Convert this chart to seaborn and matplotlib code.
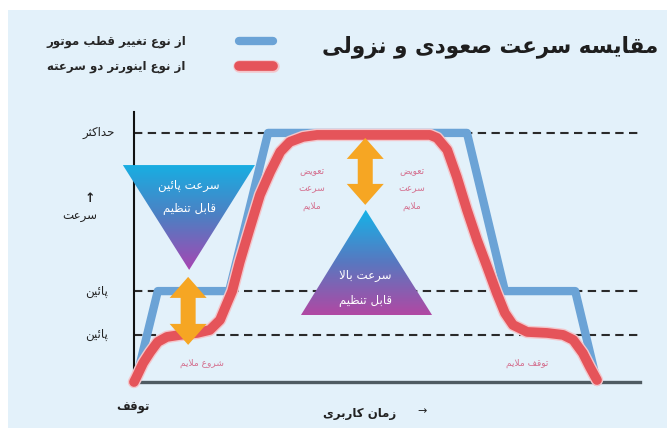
import numpy as np
import seaborn as sns
import matplotlib.pyplot as plt
import matplotlib.patheffects as pe
from matplotlib.patches import Polygon, Rectangle
from matplotlib.colors import LinearSegmentedColormap

# matplotlib does no Arabic-script shaping, so join the letters by hand
# (presentation forms) and reverse for right-to-left display.
DUAL = {'\u0628': 0xFE8F, '\u067E': 0xFB56, '\u062A': 0xFE95, '\u062B': 0xFE99,
        '\u062D': 0xFEA1, '\u0633': 0xFEB1, '\u0634': 0xFEB5, '\u0635': 0xFEB9,
        '\u0636': 0xFEBD, '\u0637': 0xFEC1, '\u0638': 0xFEC5, '\u0639': 0xFEC9,
        '\u063A': 0xFECD, '\u0641': 0xFED1, '\u0642': 0xFED5, '\u06A9': 0xFB8E,
        '\u0643': 0xFB8E, '\u0644': 0xFEDD, '\u0645': 0xFEE1, '\u0646': 0xFEE5,
        '\u0647': 0xFEE9, '\u06CC': 0xFBFC, '\u064A': 0xFBFC, '\u0626': 0xFE89}
RIGHT = {'\u0627': 0xFE8D, '\u062F': 0xFEA9, '\u0631': 0xFEAD, '\u0632': 0xFEAF,
         '\u0648': 0xFEED, '\uFEFB': 0xFEFB}


def fa(text):
    s = text.replace('\u0644\u0627', '\uFEFB')
    out = []
    for i, ch in enumerate(s):
        base = DUAL.get(ch) or RIGHT.get(ch)
        if base is None:
            out.append(ch)
            continue
        prev = s[i - 1] if i > 0 else ''
        nxt = s[i + 1] if i + 1 < len(s) else ''
        p = prev in DUAL
        n = ch in DUAL and (nxt in DUAL or nxt in RIGHT)
        out.append(chr(base + (3 if p and n else 1 if p else 2 if n else 0)))
    return ''.join(out)[::-1]


W, H = 671, 432

# ---- data (time in % of cycle, speed in % of max) ----
time_pole = [0.3, 4.7, 18.8, 26.5, 65.8, 73.3, 87.2, 91.5]
speed_pole = [0, 36.5, 36.5, 100, 100, 36.5, 36.5, 0]

time_inv = [0, 0.4, 1.8, 3.2, 4.7, 6.5, 9.1, 12.5, 15.0, 17.0, 18.4, 19.4, 20.9,
            22.9, 24.9, 26.9, 28.9, 30.8, 33.4, 36.2, 58.5, 59.9, 61.9, 63.8,
            65.8, 67.8, 69.8, 71.7, 73.3, 74.9, 77.7, 81.6, 84.8, 86.8, 88.7,
            90.1, 91.5]
speed_inv = [0, 1.6, 7.6, 12.0, 16.1, 18.1, 18.9, 19.7, 20.9, 24.9, 31.7, 36.5,
             48.2, 61.8, 75.1, 84.3, 92.4, 96.4, 98.4, 99.2, 99.2, 98.0, 93.2,
             82.3, 69.1, 57.0, 46.2, 35.7, 27.7, 22.9, 20.1, 19.7, 18.9, 16.9,
             11.6, 6.0, 0.8]

levels = [100, 36.5, 19]
level_labels = ['حداکثر', 'پائین', 'پائین']
series_labels = ['از نوع تغییر قطب موتور', 'از نوع اینورتر دو سرعته']
title = 'مقایسه سرعت صعودی و نزولی'

BLUE = '#6BA3D6'
RED = '#E5545A'
PINK = '#D4708F'
ORANGE = '#F6A623'

sns.set_theme(style='white')
plt.rcParams['font.family'] = ['DejaVu Sans']

fig = plt.figure(figsize=(W / 100, H / 100), dpi=100)
fig.patch.set_facecolor('white')
fig.add_artist(Rectangle((8 / W, 4 / H), (W - 12) / W, (H - 14) / H,
                         transform=fig.transFigure, facecolor='#E3F1FA',
                         edgecolor='none', zorder=-1))

ax = fig.add_axes([134 / W, 50 / H, 506 / W, 270 / H])
ax.set_facecolor('none')

sns.lineplot(x=time_pole, y=speed_pole, ax=ax, color=BLUE, linewidth=6,
             estimator=None, sort=False)
blue_line = ax.lines[-1]
sns.lineplot(x=time_inv, y=speed_inv, ax=ax, color=RED, linewidth=7,
             estimator=None, sort=False)
red_line = ax.lines[-1]
red_line.set_path_effects([pe.Stroke(linewidth=9, foreground='#F3C6CB'), pe.Normal()])
for ln, z in [(blue_line, 4), (red_line, 4.5)]:
    ln.set_solid_capstyle('round')
    ln.set_solid_joinstyle('round')
    ln.set_clip_on(False)
    ln.set_zorder(z)

for lv, lab, off in zip(levels, level_labels, [-14, -19, -19]):
    ax.axhline(lv, color='#2a2a2a', lw=1.5, ls=(0, (4, 2.6)), zorder=2, clip_on=False)
    ax.annotate(fa(lab), xy=(0, lv), xycoords=('axes fraction', 'data'),
                xytext=(off, 0), textcoords='offset points', ha='right',
                va='center', fontsize=8.5, color='#222222')


def gradient_triangle(verts, colors):
    xs = [v[0] for v in verts]
    ys = [v[1] for v in verts]
    poly = Polygon(verts, closed=True, transform=ax.transData,
                   facecolor='none', edgecolor='none')
    cmap = LinearSegmentedColormap.from_list('tri', colors[::-1])
    grad = np.linspace(1, 0, 256).reshape(-1, 1)
    im = ax.imshow(grad, extent=[min(xs), max(xs), min(ys), max(ys)],
                   origin='upper', cmap=cmap, aspect='auto', clip_path=poly,
                   zorder=3, interpolation='bilinear')
    im.set_clip_box(fig.bbox)


gradient_triangle([(-2.2, 87.1), (23.9, 87.1), (10.9, 45.0)],
                  ['#18AEE2', '#4F7EC2', '#A745B2'])
gradient_triangle([(45.8, 69.1), (58.9, 26.9), (33.0, 26.9)],
                  ['#14B4E8', '#5878C0', '#B148A3'])

PX_T, PX_S = 5.06, 2.49  # pixels per data unit


def double_arrow(t, s0, s1):
    hw, sw, hl = 18.5 / PX_T, 7.5 / PX_T, 21 / PX_S
    pts = [(t, s1), (t + hw, s1 - hl), (t + sw, s1 - hl), (t + sw, s0 + hl),
           (t + hw, s0 + hl), (t, s0), (t - hw, s0 + hl), (t - sw, s0 + hl),
           (t - sw, s1 - hl), (t - hw, s1 - hl)]
    ax.add_patch(Polygon(pts, closed=True, facecolor=ORANGE, edgecolor='none',
                         zorder=5, clip_on=False))


double_arrow(10.7, 14.9, 42.2)
double_arrow(45.7, 71.1, 98.0)

ax.text(10.9, 74.3, fa('سرعت پائین') + '\n' + fa('قابل تنظیم'), ha='center',
        va='center', color='white', fontsize=8.5, linespacing=1.9, zorder=6)
ax.text(45.8, 38.0, fa('سرعت بالا') + '\n' + fa('قابل تنظیم'), ha='center',
        va='center', color='white', fontsize=8.5, linespacing=2.1, zorder=6)

smooth = '\n'.join(fa(w) for w in ['تعویض', 'سرعت', 'ملایم'])
for t in [35.2, 54.9]:
    ax.text(t, 77.5, smooth, ha='center', va='center', color=PINK,
            fontsize=6.5, linespacing=2.2, zorder=6)
ax.text(13.4, 7.6, fa('شروع ملایم'), ha='center', va='center', color=PINK,
        fontsize=6.5, zorder=6)
ax.text(77.7, 7.6, fa('توقف ملایم'), ha='center', va='center', color=PINK,
        fontsize=6.5, zorder=6)

ax.set_xlim(0, 100)
ax.set_ylim(0, 108.4)
ax.set_xticks([])
ax.set_yticks([])
ax.set_xlabel('')
ax.set_ylabel('')
for side in ['top', 'right']:
    ax.spines[side].set_visible(False)
ax.spines['left'].set_color('#111111')
ax.spines['left'].set_linewidth(1.5)
ax.spines['bottom'].set_color('#4F5B62')
ax.spines['bottom'].set_linewidth(2.4)

ax.legend(handles=[blue_line, red_line], labels=[fa(l) for l in series_labels],
          loc='upper right', bbox_to_anchor=(279 / W, 1 - 29 / H),
          bbox_transform=fig.transFigure, markerfirst=False, frameon=False,
          prop=dict(size=8.5, weight='bold'), handlelength=2.9,
          handletextpad=4.5, labelspacing=1.0, borderpad=0)

fig.text(658 / W, 1 - 47 / H, fa(title), ha='right', va='center', fontsize=15.5,
         fontweight='bold', color='#1e1e1e')
fig.text(90 / W, 1 - 199 / H, '\u2191', ha='center', va='center', fontsize=9,
         fontweight='bold', color='#222222')
fig.text(97 / W, 1 - 217 / H, fa('سرعت'), ha='right', va='center', fontsize=8.5,
         color='#222222')
fig.text(133 / W, 1 - 408 / H, fa('توقف'), ha='center', va='center',
         fontsize=8.5, fontweight='bold', color='#222222')
fig.text(396 / W, 1 - 413 / H, fa('زمان کاربری'), ha='right', va='center',
         fontsize=8.5, fontweight='bold', color='#222222')
fig.text(422 / W, 1 - 411 / H, '\u2192', ha='center', va='center', fontsize=8,
         color='#222222')

fig.savefig('out.png', dpi=100, facecolor=fig.get_facecolor())
